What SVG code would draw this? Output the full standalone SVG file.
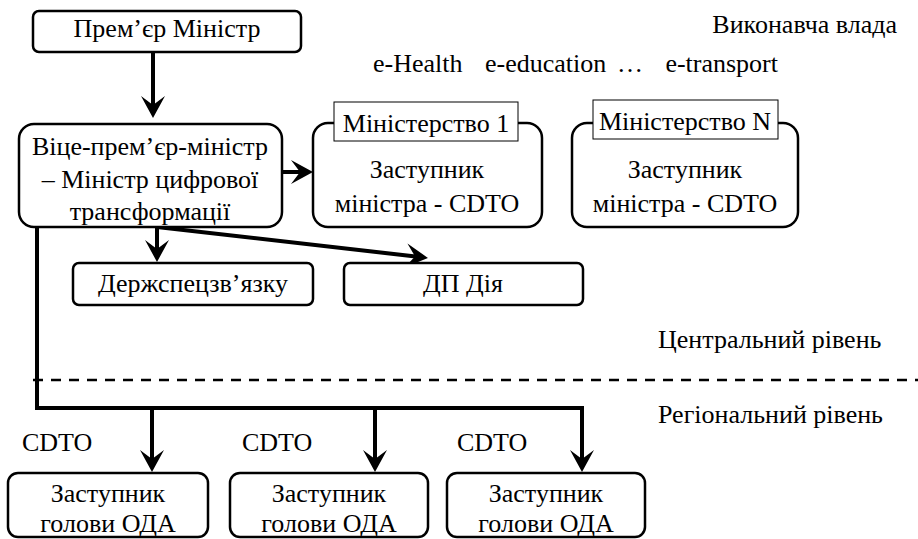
<svg xmlns="http://www.w3.org/2000/svg" width="918" height="539" viewBox="0 0 918 539">
<style>
.t{font-family:Liberation Serif,serif;font-size:26px;fill:#000}
.c{text-anchor:middle}
.e{text-anchor:end}
.box{fill:#fff;stroke:#000;stroke-width:2.5}
.lbl{fill:#fff;stroke:#000;stroke-width:1}
.con{fill:none;stroke:#000;stroke-width:4}
.dash{fill:none;stroke:#000;stroke-width:2.5;stroke-dasharray:10 8}
</style>
<defs>
<marker id="ah" markerUnits="userSpaceOnUse" markerWidth="22" markerHeight="24" viewBox="0 0 22 24" refX="14" refY="12" orient="auto">
<path d="M0,0 L22,12 L0,24 L9,12 z" fill="#000"/>
</marker>
<clipPath id="clipV"><rect x="19" y="124" width="263" height="102"/></clipPath>
</defs>

<g id="connectors">
<line class="con" x1="153" y1="53" x2="153" y2="110" marker-end="url(#ah)"/>
<line class="con" x1="282" y1="172" x2="305" y2="172" marker-end="url(#ah)"/>
<line class="con" x1="157" y1="227" x2="157" y2="254" marker-end="url(#ah)"/>
<line class="con" x1="157" y1="227" x2="420" y2="257" marker-end="url(#ah)"/>
<polyline class="con" points="37,227 37,408 582,408 582,464" marker-end="url(#ah)"/>
<line class="con" x1="152" y1="408" x2="152" y2="464" marker-end="url(#ah)"/>
<line class="con" x1="375" y1="408" x2="375" y2="464" marker-end="url(#ah)"/>
</g>

<line class="dash" x1="33" y1="380" x2="918" y2="380"/>

<g id="pm">
<rect class="box" x="33" y="11" width="268" height="41" rx="6"/>
<text class="t c" x="167" y="37">Прем’єр Міністр</text>
</g>

<g id="vpm">
<rect class="box" x="19" y="124" width="263" height="103" rx="15"/>
<g clip-path="url(#clipV)">
<text class="t c" x="150" y="155">Віце-прем’єр-міністр</text>
<text class="t c" x="150" y="188">– Міністр цифрової</text>
<text class="t c" x="150" y="220">трансформації</text>
</g>
</g>

<g id="min1">
<rect class="box" x="313" y="123" width="229" height="104" rx="15"/>
<rect class="lbl" x="334" y="102" width="184" height="39"/>
<text class="t c" x="426" y="132">Міністерство 1</text>
<text class="t c" x="427" y="178">Заступник</text>
<text class="t c" x="427" y="212">міністра - CDTO</text>
</g>

<g id="minN">
<rect class="box" x="572" y="123" width="226" height="104" rx="15"/>
<rect class="lbl" x="593" y="100" width="185" height="39"/>
<text class="t c" x="685" y="130">Міністерство N</text>
<text class="t c" x="685" y="178">Заступник</text>
<text class="t c" x="685" y="212">міністра - CDTO</text>
</g>

<g id="dsz">
<rect class="box" x="73" y="263" width="240" height="42" rx="6"/>
<text class="t c" x="193" y="292">Держспецзв’язку</text>
</g>

<g id="diia">
<rect class="box" x="344" y="263" width="239" height="42" rx="6"/>
<text class="t c" x="463" y="292">ДП Дія</text>
</g>

<g id="oda1">
<rect class="box" x="8" y="473" width="200" height="64" rx="10"/>
<text class="t c" x="108" y="502">Заступник</text>
<text class="t c" x="108" y="532">голови ОДА</text>
</g>
<g id="oda2">
<rect class="box" x="230" y="473" width="198" height="64" rx="10"/>
<text class="t c" x="329" y="502">Заступник</text>
<text class="t c" x="329" y="532">голови ОДА</text>
</g>
<g id="oda3">
<rect class="box" x="447" y="473" width="198" height="64" rx="10"/>
<text class="t c" x="546" y="502">Заступник</text>
<text class="t c" x="546" y="532">голови ОДА</text>
</g>

<g id="labels">
<text class="t e" x="897" y="33">Виконавча влада</text>
<text class="t" x="373" y="72">e-Health</text>
<text class="t" x="485" y="72">e-education</text>
<text class="t c" x="630" y="72">…</text>
<text class="t e" x="778" y="72">e-transport</text>
<text class="t" x="658" y="348">Центральний рівень</text>
<text class="t" x="658" y="423">Регіональний рівень</text>
<text class="t" x="22" y="451">CDTO</text>
<text class="t" x="242" y="451">CDTO</text>
<text class="t" x="457" y="451">CDTO</text>
</g>
</svg>
